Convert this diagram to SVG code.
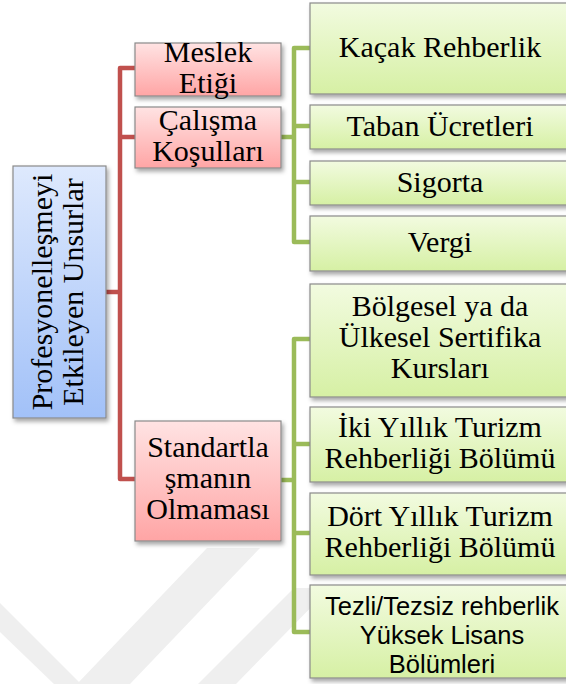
<svg xmlns="http://www.w3.org/2000/svg" width="566" height="684" viewBox="0 0 566 684">
<defs>
<linearGradient id="gBlue" x1="0" y1="0" x2="0" y2="1">
<stop offset="0" stop-color="#dee9fd"/><stop offset="1" stop-color="#a2c1f8"/>
</linearGradient>
<linearGradient id="gRed" x1="0" y1="0" x2="0" y2="1">
<stop offset="0" stop-color="#ffe3e3"/><stop offset="1" stop-color="#ffa5a5"/>
</linearGradient>
<linearGradient id="gGreen" x1="0" y1="0" x2="0" y2="1">
<stop offset="0" stop-color="#f2fbe0"/><stop offset="1" stop-color="#d6f0a4"/>
</linearGradient>
<filter id="sh" x="-10%" y="-10%" width="130%" height="130%">
<feDropShadow dx="2" dy="3" stdDeviation="2" flood-color="#000" flood-opacity="0.35"/>
</filter>
</defs>
<style>
.box{stroke:#8a8a8a;stroke-width:1.2;filter:url(#sh)}
.blue{fill:url(#gBlue)}
.red{fill:url(#gRed)}
.green{fill:url(#gGreen)}
.cr{fill:none;stroke:#c0504d;stroke-width:4.5;stroke-linejoin:round}
.cg{fill:none;stroke:#9bbb59;stroke-width:4.5;stroke-linejoin:round}
.wm{fill:#efefef}
</style>
<rect width="566" height="684" fill="#fff"/>
<g id="watermark">
<polygon class="wm" points="0,603 81,684 54,684 0,632"/>
<polygon class="wm" points="77,684 207,548 260,548 130,684"/>
<polygon class="wm" points="198,684 294,588 330,588 236,684"/>
</g>
<g id="connectors">
<path class="cr" d="M135 68 H120 V479 H135 M106 292 H120 M120 137 H135"/>
<path class="cg" d="M310 48 H294 V242 H310 M294 126 H310 M294 182 H310 M281 137 H294"/>
<path class="cg" d="M310 339 H294 V632 H310 M294 444 H310 M294 533 H310 M281 480 H294"/>
</g>
<g id="root">
<rect class="box blue" x="13" y="166" width="93" height="252"/>
<g transform="translate(59.5,292) rotate(-90)" font-family="Liberation Serif, serif" font-size="30" text-anchor="middle" fill="#000">
<text x="0" y="-7.5">Profesyonelleşmeyi</text>
<text x="0" y="23.5">Etkileyen Unsurlar</text>
</g>
</g>
<g id="meslek">
<rect class="box red" x="135" y="43" width="146" height="53"/>
<g font-family="Liberation Serif, serif" font-size="30" text-anchor="middle" fill="#000">
<text x="208" y="62">Meslek</text>
<text x="208" y="93">Etiği</text>
</g>
</g>
<g id="calisma">
<rect class="box red" x="135" y="107" width="146" height="61"/>
<g font-family="Liberation Serif, serif" font-size="30" text-anchor="middle" fill="#000">
<text x="208" y="130">Çalışma</text>
<text x="208" y="161">Koşulları</text>
</g>
</g>
<g id="standart">
<rect class="box red" x="135" y="421" width="146" height="120"/>
<g font-family="Liberation Serif, serif" font-size="30" text-anchor="middle" fill="#000">
<text x="208" y="457">Standartla</text>
<text x="208" y="488">şmanın</text>
<text x="208" y="519">Olmaması</text>
</g>
</g>
<g id="kacak">
<rect class="box green" x="310" y="3" width="262" height="91"/>
<text x="440" y="57" font-family="Liberation Serif, serif" font-size="30" text-anchor="middle" fill="#000">Kaçak Rehberlik</text>
</g>
<g id="taban">
<rect class="box green" x="310" y="105" width="262" height="44"/>
<text x="440" y="136" font-family="Liberation Serif, serif" font-size="30" text-anchor="middle" fill="#000">Taban Ücretleri</text>
</g>
<g id="sigorta">
<rect class="box green" x="310" y="161" width="262" height="44"/>
<text x="440" y="192" font-family="Liberation Serif, serif" font-size="30" text-anchor="middle" fill="#000">Sigorta</text>
</g>
<g id="vergi">
<rect class="box green" x="310" y="216" width="262" height="55"/>
<text x="440" y="252" font-family="Liberation Serif, serif" font-size="30" text-anchor="middle" fill="#000">Vergi</text>
</g>
<g id="bolgesel">
<rect class="box green" x="310" y="284" width="262" height="113"/>
<g font-family="Liberation Serif, serif" font-size="30" text-anchor="middle" fill="#000">
<text x="440" y="316">Bölgesel ya da</text>
<text x="440" y="347">Ülkesel Sertifika</text>
<text x="440" y="378">Kursları</text>
</g>
</g>
<g id="iki">
<rect class="box green" x="310" y="407" width="262" height="75"/>
<g font-family="Liberation Serif, serif" font-size="30" text-anchor="middle" fill="#000">
<text x="440" y="437">İki Yıllık Turizm</text>
<text x="440" y="468">Rehberliği Bölümü</text>
</g>
</g>
<g id="dort">
<rect class="box green" x="310" y="493" width="262" height="82"/>
<g font-family="Liberation Serif, serif" font-size="30" text-anchor="middle" fill="#000">
<text x="440" y="526">Dört Yıllık Turizm</text>
<text x="440" y="557">Rehberliği Bölümü</text>
</g>
</g>
<g id="tezli">
<rect class="box green" x="310" y="585" width="262" height="93"/>
<g font-family="Liberation Sans, Arial, sans-serif" font-size="25.5" text-anchor="middle" fill="#000">
<text x="442" y="615">Tezli/Tezsiz rehberlik</text>
<text x="442" y="644">Yüksek Lisans</text>
<text x="442" y="673">Bölümleri</text>
</g>
</g>
</svg>
